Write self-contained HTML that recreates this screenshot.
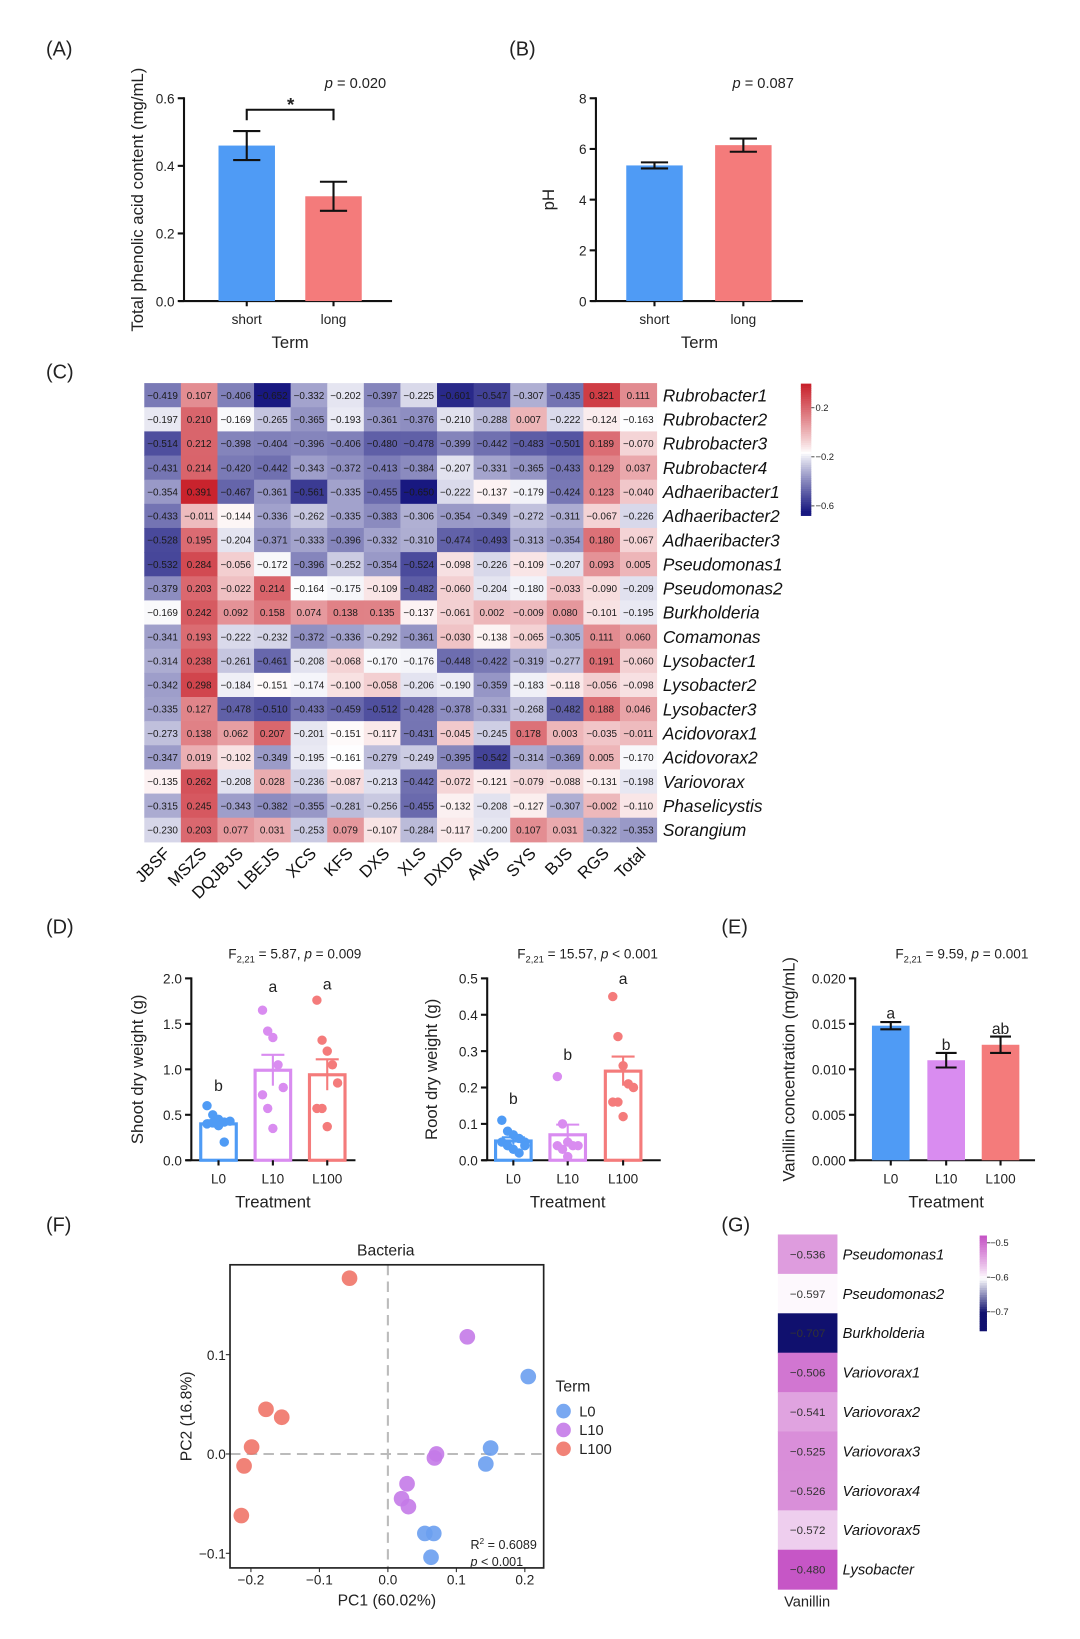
<!DOCTYPE html>
<html><head><meta charset="utf-8"><style>
html,body{margin:0;padding:0;background:#fff;}
svg{display:block;font-family:"Liberation Sans",Arial,sans-serif;}
</style></head><body>
<svg id="fig" width="1080" height="1639" viewBox="0 0 1033 1568" preserveAspectRatio="none" xmlns="http://www.w3.org/2000/svg">
<rect width="1033" height="1568" fill="#fff"/>
</svg>
<script>
// ---------- DATA ----------
const termCats = ['short','long'];
const phenolMean = [0.46, 0.31];
const phenolErr = [0.043, 0.043];
const phMean = [5.35, 6.15];
const phErr = [0.12, 0.26];

const hmCols = ['JBSF','MSZS','DQJBJS','LBEJS','XCS','KFS','DXS','XLS','DXDS','AWS','SYS','BJS','RGS','Total'];
const hmRows = ['Rubrobacter1','Rubrobacter2','Rubrobacter3','Rubrobacter4','Adhaeribacter1','Adhaeribacter2','Adhaeribacter3','Pseudomonas1','Pseudomonas2','Burkholderia','Comamonas','Lysobacter1','Lysobacter2','Lysobacter3','Acidovorax1','Acidovorax2','Variovorax','Phaselicystis','Sorangium'];
const hmVals = [
[-0.419,0.107,-0.406,-0.652,-0.332,-0.202,-0.397,-0.225,-0.601,-0.547,-0.307,-0.435,0.321,0.111],
[-0.197,0.210,-0.169,-0.265,-0.365,-0.193,-0.361,-0.376,-0.210,-0.288,0.007,-0.222,-0.124,-0.163],
[-0.514,0.212,-0.398,-0.404,-0.396,-0.406,-0.480,-0.478,-0.399,-0.442,-0.483,-0.501,0.189,-0.070],
[-0.431,0.214,-0.420,-0.442,-0.343,-0.372,-0.413,-0.384,-0.207,-0.331,-0.365,-0.433,0.129,0.037],
[-0.354,0.391,-0.467,-0.361,-0.561,-0.335,-0.455,-0.650,-0.222,-0.137,-0.179,-0.424,0.123,-0.040],
[-0.433,-0.011,-0.144,-0.336,-0.262,-0.335,-0.383,-0.306,-0.354,-0.349,-0.272,-0.311,-0.067,-0.226],
[-0.528,0.195,-0.204,-0.371,-0.333,-0.396,-0.332,-0.310,-0.474,-0.493,-0.313,-0.354,0.180,-0.067],
[-0.532,0.284,-0.056,-0.172,-0.396,-0.252,-0.354,-0.524,-0.098,-0.226,-0.109,-0.207,0.093,0.005],
[-0.379,0.203,-0.022,0.214,-0.164,-0.175,-0.109,-0.482,-0.060,-0.204,-0.180,-0.033,-0.090,-0.209],
[-0.169,0.242,0.092,0.158,0.074,0.138,0.135,-0.137,-0.061,0.002,-0.009,0.080,-0.101,-0.195],
[-0.341,0.193,-0.222,-0.232,-0.372,-0.336,-0.292,-0.361,-0.030,-0.138,-0.065,-0.305,0.111,0.060],
[-0.314,0.238,-0.261,-0.461,-0.208,-0.068,-0.170,-0.176,-0.448,-0.422,-0.319,-0.277,0.191,-0.060],
[-0.342,0.298,-0.184,-0.151,-0.174,-0.100,-0.058,-0.206,-0.190,-0.359,-0.183,-0.118,-0.056,-0.098],
[-0.335,0.127,-0.478,-0.510,-0.433,-0.459,-0.512,-0.428,-0.378,-0.331,-0.268,-0.482,0.188,0.046],
[-0.273,0.138,0.062,0.207,-0.201,-0.151,-0.117,-0.431,-0.045,-0.245,0.178,0.003,-0.035,-0.011],
[-0.347,0.019,-0.102,-0.349,-0.195,-0.161,-0.279,-0.249,-0.395,-0.542,-0.314,-0.369,0.005,-0.170],
[-0.135,0.262,-0.208,0.028,-0.236,-0.087,-0.213,-0.442,-0.072,-0.121,-0.079,-0.088,-0.131,-0.198],
[-0.315,0.245,-0.343,-0.382,-0.355,-0.281,-0.256,-0.455,-0.132,-0.208,-0.127,-0.307,-0.002,-0.110],
[-0.230,0.203,0.077,0.031,-0.253,0.079,-0.107,-0.284,-0.117,-0.200,0.107,0.031,-0.322,-0.353]];
const hmBarTicks = [0.2,-0.2,-0.6];

const treatCats = ['L0','L10','L100'];
const shootMean = [0.40,0.99,0.94];
const shootErr = [0.04,0.17,0.17];
const shootPts = [[0.60,0.50,0.45,0.42,0.43,0.40,0.41,0.38,0.20],[1.65,1.42,1.35,1.05,0.80,0.72,0.57,0.35],[1.76,1.32,1.20,1.05,0.85,0.57,0.57,0.37]];
const shootLetters = ['b','a','a'];
const rootMean = [0.053,0.070,0.245];
const rootErr = [0.010,0.028,0.040];
const rootPts = [[0.11,0.08,0.07,0.06,0.05,0.05,0.04,0.03,0.02,0.04],[0.23,0.10,0.05,0.04,0.04,0.04,0.03,0.01],[0.45,0.34,0.26,0.21,0.20,0.16,0.16,0.12]];
const rootLetters = ['b','b','a'];
const vanMean = [0.0148,0.0110,0.0127];
const vanErr = [0.0004,0.0008,0.0009];
const vanLetters = ['a','b','ab'];

const pcaGroups = ['L0','L10','L100'];
const pcaX = [[0.205,0.150,0.143,0.054,0.067,0.063],[0.116,0.071,0.068,0.028,0.020,0.030],[-0.056,-0.178,-0.155,-0.199,-0.210,-0.214]];
const pcaY = [[0.078,0.006,-0.010,-0.080,-0.080,-0.104],[0.118,0.000,-0.004,-0.030,-0.045,-0.053],[0.177,0.045,0.037,0.007,-0.012,-0.062]];

const gRows = ['Pseudomonas1','Pseudomonas2','Burkholderia','Variovorax1','Variovorax2','Variovorax3','Variovorax4','Variovorax5','Lysobacter'];
const gVals = [-0.536,-0.597,-0.707,-0.506,-0.541,-0.525,-0.526,-0.572,-0.480];
const gTicks = [-0.5,-0.6,-0.7];

// ---------- HELPERS ----------
const NS='http://www.w3.org/2000/svg';
const svg=document.getElementById('fig');
function el(tag,attrs,parent){const e=document.createElementNS(NS,tag);for(const k in attrs)e.setAttribute(k,attrs[k]);(parent||svg).appendChild(e);return e;}
function txt(s,x,y,o,parent){o=o||{};const t=el('text',{x:x,y:y,'font-size':o.size||13,'text-anchor':o.anchor||'middle',fill:o.fill||'#222'},parent);
 if(o.italic)t.setAttribute('font-style','italic');if(o.rot!==undefined)t.setAttribute('transform','rotate('+o.rot+' '+x+' '+y+')');
 if(o.weight)t.setAttribute('font-weight',o.weight);t.textContent=s;return t;}
const BLUE='#4f9bf5',RED='#f47b7b',VIO='#d98cf0';
function lin(d0,d1,r0,r1){return v=>r0+(v-d0)/(d1-d0)*(r1-r0);}
function mix(a,b,t){t=Math.max(0,Math.min(1,t));return 'rgb('+a.map((c,i)=>Math.round(c+(b[i]-c)*t)).join(',')+')';}

// panel labels
[['(A)',44,53],['(B)',487,53],['(C)',44,362],['(D)',44,893],['(E)',690,893],['(F)',44,1178],['(G)',690,1178]].forEach(p=>{
 const t=txt(p[0],p[1],p[2],{size:19,anchor:'start'});
 
 });

// ---------- BAR CHART (A,B,E) ----------
function barChart(o){
 const g=el('g',{});
 
 
 const y=lin(o.ymin,o.ymax,o.y0,o.y1);
 el('line',{x1:o.ax,y1:o.y0,x2:o.ax,y2:o.y1-1,stroke:'#111','stroke-width':2},g);
 el('line',{x1:o.ax-5,y1:o.y0,x2:o.axEnd,y2:o.y0,stroke:'#111','stroke-width':2},g);
 o.ticks.forEach((tv,i)=>{const yy=y(tv);el('line',{x1:o.ax-6,y1:yy,x2:o.ax,y2:yy,stroke:'#111','stroke-width':2},g);
  const tl=txt(o.tickLabels[i],o.ax-9,yy+5,{size:13,anchor:'end'},g);
  
  });
 o.cats.forEach((c,i)=>{const cx=o.cx[i];const top=y(o.mean[i]);
  const r=el('rect',{x:cx-o.bw/2,y:top,width:o.bw,height:o.y0-top,fill:o.fill?o.colors[i]:'none',stroke:o.colors[i],'stroke-width':o.fill?0:3},g);
  
  
  const e1=y(o.mean[i]+o.err[i]),e2=y(o.mean[i]-o.err[i]);
  const ec=o.fill?'#111':o.colors[i];
  el('line',{x1:cx,y1:e1,x2:cx,y2:e2,stroke:ec,'stroke-width':2},g);
  el('line',{x1:cx-o.cap,y1:e1,x2:cx+o.cap,y2:e1,stroke:ec,'stroke-width':2},g);
  if(o.fill)el('line',{x1:cx-o.cap,y1:e2,x2:cx+o.cap,y2:e2,stroke:ec,'stroke-width':2},g);
  else el('line',{x1:cx-o.cap,y1:top,x2:cx+o.cap,y2:top,stroke:ec,'stroke-width':2},g);
  el('line',{x1:cx,y1:o.y0,x2:cx,y2:o.y0+5,stroke:'#111','stroke-width':2},g);
  const xl=txt(c,cx,o.y0+22,{size:13},g);
  
  
  if(o.pts){o.pts[i].forEach((pv,j)=>{const off=((j%5)-2)*5.5*(o.pts[i].length>8?1:0.9);
    const d=el('circle',{cx:cx+off,cy:y(pv),r:4.5,fill:o.colors[i]},g);
    
    });}
  if(o.letters){const lt=txt(o.letters[i],cx,y(o.letterY[i]),{size:15},g);
   
   }
 });
 const xt=txt(o.xtitle,(o.ax+o.axEnd)/2+(o.xtOff||0),o.y0+45,{size:16},g);
 
 
 const yt=txt(o.ytitle,o.ytx,(o.y0+o.y1)/2,{size:16,rot:-90},g);
 
 
 return {g,y};
}

// Panel A
const A=barChart({name:'panel-a-phenolic-chart',cats:termCats,mean:phenolMean,err:phenolErr,ymin:0,ymax:0.6,y0:288,y1:94,ax:176,axEnd:375,
 ticks:[0,0.2,0.4,0.6],tickLabels:['0.0','0.2','0.4','0.6'],cx:[236,319],bw:54,cap:13,colors:[BLUE,RED],fill:true,
 xtitle:'Term',xtOff:2,ytitle:'Total phenolic acid content (mg/mL)',ytx:137});
el('path',{d:'M236 115 V105 H319 V115',fill:'none',stroke:'#111','stroke-width':2},A.g);
txt('*',278,106,{size:18,weight:'bold'},A.g);
const pA=txt('',340,84,{size:14},A.g);pA.innerHTML='<tspan font-style="italic">p</tspan> = 0.020';
// Panel B
const B=barChart({name:'panel-b-ph-chart',cats:termCats,mean:phMean,err:phErr,ymin:0,ymax:8,y0:288,y1:94,ax:570,axEnd:768,
 ticks:[0,2,4,6,8],tickLabels:['0','2','4','6','8'],cx:[626,711],bw:54,cap:13,colors:[BLUE,RED],fill:true,
 xtitle:'Term',xtOff:0,ytitle:'pH',ytx:530});
const pB=txt('',730,84,{size:14},B.g);pB.innerHTML='<tspan font-style="italic">p</tspan> = 0.087';

// ---------- HEATMAP (C) ----------
(function(){
 const g=el('g',{});
 
 
 const x0=138,y0=366.5,cw=35,ch=23.1;
 const W=[255,255,255],NAVY=[24,24,128],REDC=[200,32,42];
 const mid=-0.16;
 function col(v){return v<mid?mix(W,NAVY,Math.pow((mid-v)/(0.64-0.16),0.9)):mix(W,REDC,Math.pow((v-mid)/(0.40+0.16),0.9));}
 hmRows.forEach((rn,i)=>{hmCols.forEach((cn,j)=>{const v=hmVals[i][j];
   const r=el('rect',{x:x0+j*cw,y:y0+i*ch,width:cw+0.5,height:ch+0.5,fill:col(v)},g);
   
   
   txt(v.toFixed(3).replace('-','−'),x0+j*cw+cw/2,y0+i*ch+ch/2+3.5,{size:9.5,fill:'#1a1a1a'},g);});
  const rl=txt(rn,x0+14*cw+6,y0+i*ch+ch/2+6,{size:16.5,anchor:'start',italic:true,fill:'#111'},g);
  
  });
 hmCols.forEach((cn,j)=>{const cx=x0+j*cw+cw/2+8,cy=y0+19*ch+12;
  const cl=txt(cn,cx,cy,{size:16,anchor:'end',rot:-45,fill:'#111'},g);
  
  });
 // colorbar
 const by0=367,by1=493,bx=766;
 const cb=lin(0.396,-0.677,by0,by1);
 for(let k=0;k<60;k++){const v=0.396-(0.396+0.677)*k/60;
  el('rect',{x:bx,y:by0+(by1-by0)*k/60,width:10,height:(by1-by0)/60+0.6,fill:col(v)},g);}
 hmBarTicks.forEach(t=>{el('line',{x1:bx+10,y1:cb(t),x2:bx+13,y2:cb(t),stroke:'#555'},g);
  const tl=txt(t.toFixed(1).replace('-','−'),bx+14,cb(t)+3,{size:9,anchor:'start'},g);
  
  });
})();

// ---------- PANEL D ----------
const D1=barChart({name:'panel-d-shoot-weight-chart',cats:treatCats,mean:shootMean,err:shootErr,ymin:0,ymax:2,y0:1110,y1:936,ax:183,axEnd:340,
 ticks:[0,0.5,1,1.5,2],tickLabels:['0.0','0.5','1.0','1.5','2.0'],cx:[209,261,313],bw:34,cap:11,colors:[BLUE,VIO,RED],fill:false,
 pts:shootPts,letters:shootLetters,letterY:[0.76,1.85,1.88],xtitle:'Treatment',xtOff:-0.5,ytitle:'Shoot dry weight (g)',ytx:137});
const fD1=txt('',282,917,{size:13},D1.g);fD1.innerHTML='F<tspan font-size="9" dy="4">2,21</tspan><tspan dy="-4"> = 5.87, </tspan><tspan font-style="italic">p</tspan> = 0.009';
const D2=barChart({name:'panel-d-root-weight-chart',cats:treatCats,mean:rootMean,err:rootErr,ymin:0,ymax:0.5,y0:1110,y1:936,ax:466,axEnd:632,
 ticks:[0,0.1,0.2,0.3,0.4,0.5],tickLabels:['0.0','0.1','0.2','0.3','0.4','0.5'],cx:[491,543,596],bw:34,cap:11,colors:[BLUE,VIO,RED],fill:false,
 pts:rootPts,letters:rootLetters,letterY:[0.155,0.275,0.485],xtitle:'Treatment',xtOff:-6,ytitle:'Root dry weight (g)',ytx:418});
const fD2=txt('',562,917,{size:13},D2.g);fD2.innerHTML='F<tspan font-size="9" dy="4">2,21</tspan><tspan dy="-4"> = 15.57, </tspan><tspan font-style="italic">p</tspan> &lt; 0.001';

// ---------- PANEL E ----------
const E=barChart({name:'panel-e-vanillin-chart',cats:treatCats,mean:vanMean,err:vanErr,ymin:0,ymax:0.02,y0:1110,y1:936,ax:818,axEnd:990,
 ticks:[0,0.005,0.01,0.015,0.02],tickLabels:['0.000','0.005','0.010','0.015','0.020'],cx:[852,905,957],bw:36,cap:10,colors:[BLUE,VIO,RED],fill:true,
 letters:vanLetters,letterY:[0.0156,0.0121,0.0139],xtitle:'Treatment',xtOff:1,ytitle:'Vanillin concentration (mg/mL)',ytx:760});
const fE=txt('',920,917,{size:13},E.g);fE.innerHTML='F<tspan font-size="9" dy="4">2,21</tspan><tspan dy="-4"> = 9.59,   </tspan><tspan font-style="italic">p</tspan> = 0.001';

// ---------- PANEL F (PCA) ----------
(function(){
 const g=el('g',{});
 
 
 const X=lin(0,0.1,371,436.5),Y=lin(0,0.1,1391,1296);
 const L=220,R=520,T=1210,Bt=1500;
 el('line',{x1:L,y1:Y(0),x2:R,y2:Y(0),stroke:'#bbb','stroke-width':2,'stroke-dasharray':'10,6'},g);
 el('line',{x1:X(0),y1:T,x2:X(0),y2:Bt,stroke:'#bbb','stroke-width':2,'stroke-dasharray':'10,6'},g);
 const cols=['#6a9ff0','#c47ae8','#ef7468'];
 pcaGroups.forEach((gn,i)=>{pcaX[i].forEach((xv,j)=>{
   const c=el('circle',{cx:X(xv),cy:Y(pcaY[i][j]),r:7.5,fill:cols[i],'fill-opacity':0.9},g);
   
   });
  const lc=el('circle',{cx:539,cy:1350+i*18,r:7,fill:cols[i],'fill-opacity':0.9},g);
  
  
  const lt=txt(gn,554,1355+i*18,{size:14,anchor:'start'},g);
  
  });
 txt('Term',548,1331,{size:15},g);
 el('rect',{x:L,y:T,width:R-L,height:Bt-T,fill:'none',stroke:'#222','stroke-width':1.6},g);
 [-0.2,-0.1,0,0.1,0.2].forEach(t=>{el('line',{x1:X(t),y1:Bt,x2:X(t),y2:Bt+4,stroke:'#222'},g);
  txt((t===0?'0.0':t.toFixed(1)).replace('-','−'),X(t),Bt+16,{size:13},g);});
 [-0.1,0,0.1].forEach(t=>{el('line',{x1:L-4,y1:Y(t),x2:L,y2:Y(t),stroke:'#222'},g);
  txt((t===0?'0.0':t.toFixed(1)).replace('-','−'),L-4,Y(t)+5,{size:13,anchor:'end'},g);});
 txt('Bacteria',369,1201,{size:15},g);
 const xt=txt('PC1 (60.02%)',370,1536,{size:15},g);
 
 
 const yt=txt('PC2 (16.8%)',183,1355,{size:15,rot:-90},g);
 
 
 const r2=txt('',450,1482,{size:12,anchor:'start'},g);r2.innerHTML='R<tspan font-size="8" dy="-5">2</tspan><tspan dy="5"> = 0.6089</tspan>';
 const pp=txt('',450,1498,{size:12,anchor:'start'},g);pp.innerHTML='<tspan font-style="italic">p</tspan> &lt; 0.001';
})();

// ---------- PANEL G ----------
(function(){
 const g=el('g',{});
 
 
 const x0=744,w=57,y0=1181,ch=37.7;
 const MAG=[196,80,196],W=[255,255,255],NAVY=[16,16,110];
 function col(v){return v>=-0.6?mix(W,MAG,Math.pow((v+0.6)/0.125,0.85)):mix(W,NAVY,(-0.6-v)/0.1);}
 gRows.forEach((rn,i)=>{const v=gVals[i];
  const r=el('rect',{x:x0,y:y0+i*ch,width:w,height:ch+0.5,fill:col(v)},g);
  
  
  txt(v.toFixed(3).replace('-','−'),x0+w/2,y0+i*ch+ch/2+4,{size:11,fill:'#333'},g);
  const rl=txt(rn,x0+w+5,y0+i*ch+ch/2+5,{size:14,anchor:'start',italic:true,fill:'#111'},g);
  
  });
 txt('Vanillin',772,1537,{size:14},g);
 const by0=1182,by1=1273,bx=937;
 const cb=lin(-0.479,-0.755,by0,by1);
 for(let k=0;k<40;k++){const v=-0.479-(0.276)*k/40;
  el('rect',{x:bx,y:by0+(by1-by0)*k/40,width:7,height:(by1-by0)/40+0.6,fill:col(v)},g);}
 gTicks.forEach(t=>{el('line',{x1:bx+7,y1:cb(t),x2:bx+10,y2:cb(t),stroke:'#555'},g);
  const tl=txt(t.toFixed(1).replace('-','−'),bx+10,cb(t)+3,{size:9,anchor:'start'},g);
  
  });
})();
</script>
</body></html>
